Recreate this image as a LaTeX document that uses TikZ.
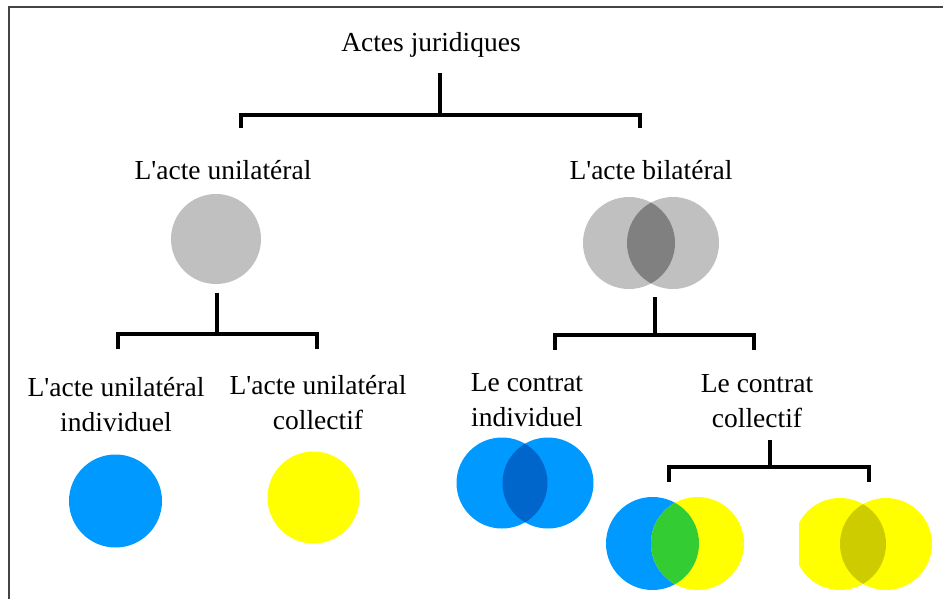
\documentclass[tikz,border=0pt]{standalone}
\usepackage{fontspec}
\setmainfont{Liberation Serif}
\definecolor{frame}{HTML}{444444}
\definecolor{lightgrey}{HTML}{C0C0C0}
\definecolor{midgrey}{HTML}{808080}
\definecolor{skyblue}{HTML}{0099FF}
\definecolor{deepblue}{HTML}{0066CC}
\definecolor{pureyellow}{HTML}{FFFF00}
\definecolor{olive}{HTML}{CCCC00}
\definecolor{leaf}{HTML}{33CC33}
\newcommand{\q}{\textquotesingle}
\tikzset{
  label/.style={font=\fontsize{27.5}{35}\selectfont, align=center, inner sep=0pt},
  bracket/.style={line width=4.5pt, black, line join=miter},
}
\begin{document}
\begin{tikzpicture}[x=1pt,y=-1pt]
\useasboundingbox (0,0) rectangle (943,599);
\fill[white] (0,0) rectangle (943,599);
% frame lines
\draw[frame, line width=2pt] (8.5,599) -- (8.5,7) -- (943,7);

% labels
\node[label] (root) at (431,45) {Actes juridiques};
\node[label] (uni) at (223,170) {L\q acte unilatéral};
\node[label] (bi) at (651,170) {L\q acte bilatéral};
\node[label] (uniind) at (116,405) {L\q acte unilatéral\\individuel};
\node[label] (unicol) at (318,403) {L\q acte unilatéral\\collectif};
\node[label] (conind) at (527,400) {Le contrat\\individuel};
\node[label] (concol) at (757,401) {Le contrat\\collectif};

% circle centres
\coordinate (cuni) at (216,239);
\coordinate (cbiL) at (629,243);
\coordinate (cbiR) at (673,243);
\coordinate (cind) at (115.5,501);
\coordinate (ccol) at (313.5,497.5);
\coordinate (cciL) at (502,483);
\coordinate (cciR) at (548,483);
\coordinate (cmxL) at (652.5,543.5);
\coordinate (cmxR) at (697.5,543.5);
\coordinate (cyyL) at (840,544);
\coordinate (cyyR) at (886,544);

% unilateral act
\fill[lightgrey] (cuni) circle[radius=45];
% bilateral act
\fill[lightgrey] (cbiL) circle[radius=46] (cbiR) circle[radius=46];
\begin{scope}
  \clip (cbiL) circle[radius=46];
  \fill[midgrey] (cbiR) circle[radius=46];
\end{scope}
% individual / collective unilateral acts
\fill[skyblue] (cind) circle[radius=46.5];
\fill[pureyellow] (ccol) circle[radius=46];
% individual contract
\fill[skyblue] (cciL) circle[radius=45.5] (cciR) circle[radius=45.5];
\begin{scope}
  \clip (cciL) circle[radius=45.5];
  \fill[deepblue] (cciR) circle[radius=45.5];
\end{scope}
% collective contracts
\fill[skyblue] (cmxL) circle[radius=46.5];
\fill[pureyellow] (cmxR) circle[radius=46.5];
\begin{scope}
  \clip (cmxL) circle[radius=46.5];
  \fill[leaf] (cmxR) circle[radius=46.5];
\end{scope}
\begin{scope}
  \clip (799,480) rectangle (943,599);
  \fill[pureyellow] (cyyL) circle[radius=46] (cyyR) circle[radius=46];
  \clip (cyyL) circle[radius=46];
  \fill[olive] (cyyR) circle[radius=46];
\end{scope}

% brackets
\coordinate (b1top) at (440,73);
\coordinate (b1mid) at (440,115);
\coordinate (b1l) at (241,128);
\coordinate (b1r) at (640,128);
\draw[bracket] (b1top) -- (b1mid);
\draw[bracket] (b1l) |- (b1mid) -| (b1r);

\coordinate (b2top) at (217,293);
\coordinate (b2mid) at (217,334);
\coordinate (b2l) at (118,349);
\coordinate (b2r) at (317,349);
\draw[bracket] (b2top) -- (b2mid);
\draw[bracket] (b2l) |- (b2mid) -| (b2r);

\coordinate (b3top) at (655,297);
\coordinate (b3mid) at (655,335);
\coordinate (b3l) at (555,350);
\coordinate (b3r) at (754,350);
\draw[bracket] (b3top) -- (b3mid);
\draw[bracket] (b3l) |- (b3mid) -| (b3r);

\coordinate (b4top) at (770,440);
\coordinate (b4mid) at (770,467);
\coordinate (b4l) at (669,482);
\coordinate (b4r) at (869,482);
\draw[bracket] (b4top) -- (b4mid);
\draw[bracket] (b4l) |- (b4mid) -| (b4r);
\end{tikzpicture}
\end{document}
